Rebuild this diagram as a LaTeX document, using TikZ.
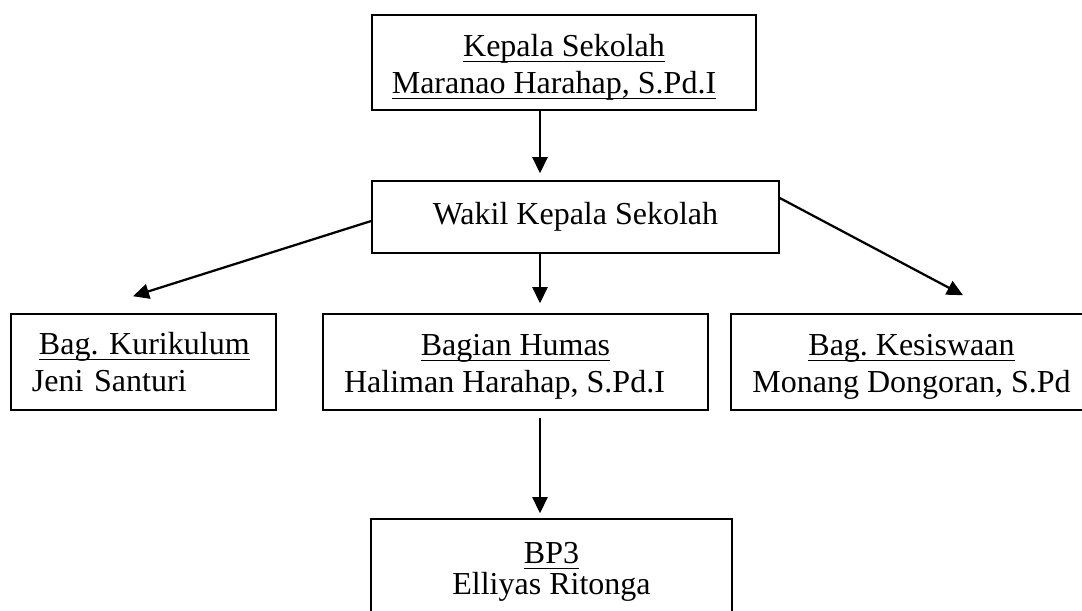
\documentclass[tikz,border=0pt]{standalone}
\usepackage{fontspec}
\setmainfont{Liberation Serif}
\usepackage{tikz}
\usetikzlibrary{arrows.meta,positioning,calc}
\newcommand\undl[1]{\leavevmode\setbox0=\hbox{#1}\dp0=0pt\vtop{\box0\kern1.8pt\hrule height0.55pt}}
\newcommand\topstrut{\rule{0pt}{12pt}}

\begin{document}
\frenchspacing
\begin{tikzpicture}[x=0.4pt,y=-0.4pt,>={Triangle[length=6.4pt,width=6pt]},
box/.style={draw=black,line width=0.6pt,align=center,inner sep=0pt,
  font=\fontsize{12.8}{14.8}\selectfont},
flow/.style={->,line width=0.9pt,draw=black}]
\useasboundingbox (0,0) rectangle (1082,611);
\node[box,minimum width=153.6pt,minimum height=38pt] (kepala) at (564,62.5)
{\topstrut\undl{Kepala Sekolah}\\\hspace*{-8pt}\undl{Maranao Harahap, S.Pd.I}};
\node[box,minimum width=162.8pt,minimum height=28.8pt] (wakil) at (575.5,217)
{Wakil Kepala Sekolah};
\node[box,minimum width=106pt,minimum height=38.4pt,text width=89.2pt,align=left,
  inner xsep=8.4pt] (kurikulum) at (143.5,362)
{\hspace*{2.8pt}\undl{Bag. Kurikulum}\\Jeni Santuri};
\node[box,minimum width=154pt,minimum height=38.4pt] (humas) at (515.5,362)
{\topstrut\undl{Bagian Humas}\\\hspace*{-8.8pt}Haliman Harahap, S.Pd.I};
\node[box,minimum width=144.4pt,minimum height=38.4pt] (kesiswaan) at (911.5,362)
{\topstrut\undl{Bag. Kesiswaan}\\Monang Dongoran, S.Pd};
\node[box,minimum width=144.4pt,minimum height=42.4pt,
  font=\fontsize{12.8}{12.6}\selectfont] (bp3) at (551.5,572)
{\undl{BP3}\\Elliyas Ritonga};
\coordinate (axis) at (540,0);
\draw[flow,shorten >=2.8pt] (kepala.south -| axis) -- (wakil.north -| axis);
\draw[flow,shorten >=4pt] (wakil.south -| axis) -- (humas.north -| axis);
\draw[flow,shorten <=2.8pt,shorten >=2pt] (humas.south -| axis) -- (bp3.north -| axis);
\draw[flow] ([yshift=-1.6pt]wakil.west) -- ([xshift=-4.2pt,yshift=6.8pt]kurikulum.north);
\draw[flow] ([yshift=7.6pt]wakil.east) -- ([xshift=20.6pt,yshift=7.2pt]kesiswaan.north);
\end{tikzpicture}
\end{document}
